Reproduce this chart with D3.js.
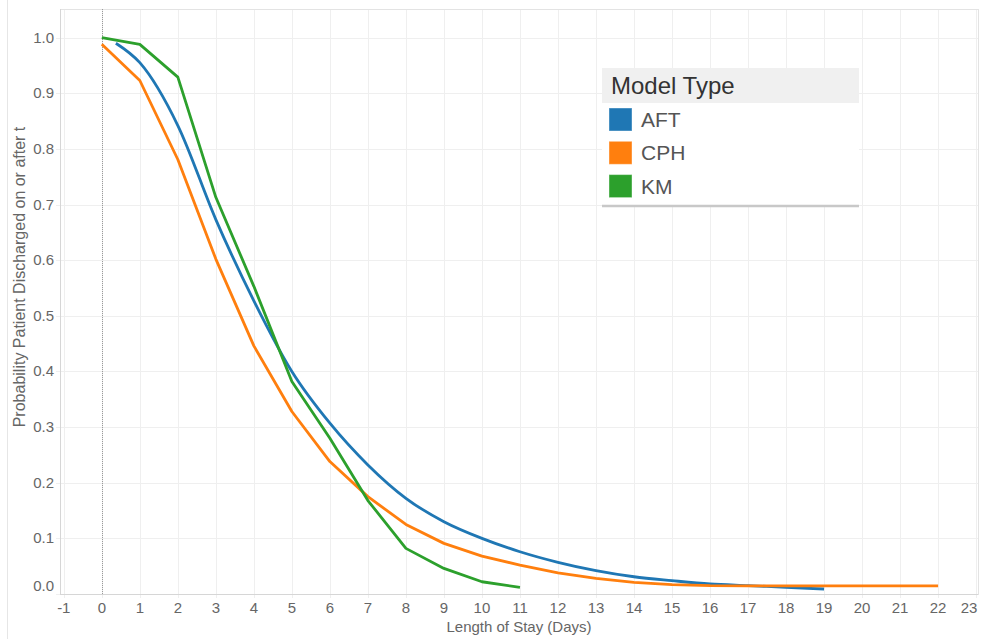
<!DOCTYPE html>
<html>
<head>
<meta charset="utf-8">
<script src="https://cdn.jsdelivr.net/npm/d3@7"></script>
<style>
  body { margin: 0; background: #fff; }
  svg { display: block; font-family: "Liberation Sans", Arial, sans-serif; }
</style>
</head>
<body>
<svg id="chart" width="981" height="639"></svg>
<script>
// values
const models = ["AFT", "CPH", "KM"];
const colors = ["#1f77b4", "#ff7f0e", "#2ca02c"];

const aftDays = [0.37, 1, 2, 3, 4, 5, 6, 7, 8, 9, 10, 11, 12, 13, 14, 15, 16, 17, 18, 19];
const aftProb = [0.990, 0.955, 0.842, 0.673, 0.527, 0.400, 0.307, 0.232, 0.172, 0.130, 0.100, 0.076, 0.057, 0.042, 0.031, 0.024, 0.018, 0.015, 0.012, 0.009];

const cphDays = [0, 1, 2, 3, 4, 5, 6, 7, 8, 9, 10, 11, 12, 13, 14, 15, 16, 17, 18, 19, 20, 21, 22];
const cphProb = [0.988, 0.923, 0.781, 0.602, 0.446, 0.328, 0.238, 0.175, 0.125, 0.091, 0.068, 0.052, 0.038, 0.028, 0.021, 0.017, 0.015, 0.0146, 0.0146, 0.0146, 0.0146, 0.0146, 0.0146];

const kmDays = [0, 1, 2, 3, 4, 5, 6, 7, 8, 9, 10, 11];
const kmProb = [1.0, 0.988, 0.929, 0.713, 0.553, 0.382, 0.280, 0.168, 0.082, 0.046, 0.022, 0.012];

const xTicks = d3.range(-1, 24);
const yTicks = d3.range(0, 11).map(i => i / 10);

const svg = d3.select("#chart");
const plotL = 60, plotR = 978, plotT = 9, plotB = 594;

const x = d3.scaleLinear().domain([-1.1, 23.05]).range([plotL, plotR]);
const y = d3.scaleLinear().domain([0, 1.0515]).range([plotB, plotT]);

// outer pane border
svg.append("line")
  .attr("x1", 7.5).attr("x2", 7.5).attr("y1", 0).attr("y2", 639)
  .attr("stroke", "#e6e6e6");

// grid
svg.append("g").selectAll("line")
  .data(xTicks)
  .join("line")
  .attr("x1", d => Math.round(x(d)) + 0.5)
  .attr("x2", d => Math.round(x(d)) + 0.5)
  .attr("y1", plotT).attr("y2", plotB + 4)
  .attr("stroke", "#efefef");

svg.append("g").selectAll("line")
  .data(yTicks)
  .join("line")
  .attr("x1", plotL - 4).attr("x2", plotR)
  .attr("y1", d => Math.round(y(d)) + 0.5)
  .attr("y2", d => Math.round(y(d)) + 0.5)
  .attr("stroke", "#efefef");

// frame
svg.append("rect")
  .attr("x", plotL + 0.5).attr("y", plotT + 0.5)
  .attr("width", plotR - plotL).attr("height", plotB - plotT)
  .attr("fill", "none").attr("stroke", "#e3e3e3");
svg.append("line")
  .attr("x1", plotL + 0.5).attr("x2", plotL + 0.5).attr("y1", plotT).attr("y2", plotB)
  .attr("stroke", "#d6d6d6");
svg.append("line")
  .attr("x1", plotL).attr("x2", plotR).attr("y1", plotB + 0.5).attr("y2", plotB + 0.5)
  .attr("stroke", "#d6d6d6");

// zero reference line
svg.append("line")
  .attr("x1", Math.round(x(0)) + 0.5).attr("x2", Math.round(x(0)) + 0.5)
  .attr("y1", plotT).attr("y2", plotB)
  .attr("stroke", "#9a9a9a")
  .attr("stroke-dasharray", "1,1");

// tick labels
svg.append("g").selectAll("text")
  .data(xTicks)
  .join("text")
  .attr("x", d => Math.min(x(d), plotR - 9))
  .attr("y", 613)
  .attr("text-anchor", "middle")
  .style("font-size", "15px")
  .style("fill", "#666")
  .text(d => d);

svg.append("g").selectAll("text")
  .data(yTicks)
  .join("text")
  .attr("x", 54)
  .attr("y", d => Math.min(y(d), 586) + 5)
  .attr("text-anchor", "end")
  .style("font-size", "15px")
  .style("fill", "#666")
  .text(d => d.toFixed(1));

// axis titles
svg.append("text")
  .attr("x", (plotL + plotR) / 2)
  .attr("y", 632)
  .attr("text-anchor", "middle")
  .style("font-size", "15px")
  .style("fill", "#666")
  .text("Length of Stay (Days)");

svg.append("text")
  .attr("transform", "translate(25,277) rotate(-90)")
  .attr("text-anchor", "middle")
  .style("font-size", "16px")
  .style("fill", "#666")
  .text("Probability Patient Discharged on or after t");

// lines
const series = [
  { name: "AFT", days: aftDays, prob: aftProb, curve: d3.curveMonotoneX },
  { name: "CPH", days: cphDays, prob: cphProb, curve: d3.curveLinear },
  { name: "KM", days: kmDays, prob: kmProb, curve: d3.curveLinear }
];

series.forEach(s => {
  const pts = s.days.map((d, j) => [d, s.prob[j]]);
  const line = d3.line()
    .x(d => x(d[0]))
    .y(d => y(d[1]))
    .curve(s.curve);
  svg.append("path")
    .datum(pts)
    .attr("d", line)
    .attr("fill", "none")
    .attr("stroke", colors[models.indexOf(s.name)])
    .attr("stroke-width", 2.8)
    .attr("stroke-linejoin", "round");
});

// legend
const lg = svg.append("g").attr("transform", "translate(602,68)");
lg.append("rect")
  .attr("width", 257).attr("height", 137)
  .attr("fill", "#fff");
lg.append("rect")
  .attr("width", 257).attr("height", 35)
  .attr("fill", "#f0f0f0");
lg.append("text")
  .attr("x", 9).attr("y", 26)
  .style("font-size", "24px")
  .style("fill", "#333")
  .text("Model Type");
lg.append("line")
  .attr("x1", 0).attr("x2", 257).attr("y1", 138).attr("y2", 138)
  .attr("stroke", "#c8c8c8").attr("stroke-width", 2.5);

const items = lg.selectAll("g.item")
  .data(models)
  .join("g")
  .attr("class", "item")
  .attr("transform", (d, i) => `translate(7,${40 + i * 33.3})`);
items.append("rect")
  .attr("width", 23).attr("height", 23)
  .attr("fill", (d, i) => colors[i])
  .attr("stroke", "#fff").attr("stroke-opacity", 0.4);
items.append("text")
  .attr("x", 32).attr("y", 19)
  .style("font-size", "21px")
  .style("fill", "#555")
  .text(d => d);
</script>
</body>
</html>
